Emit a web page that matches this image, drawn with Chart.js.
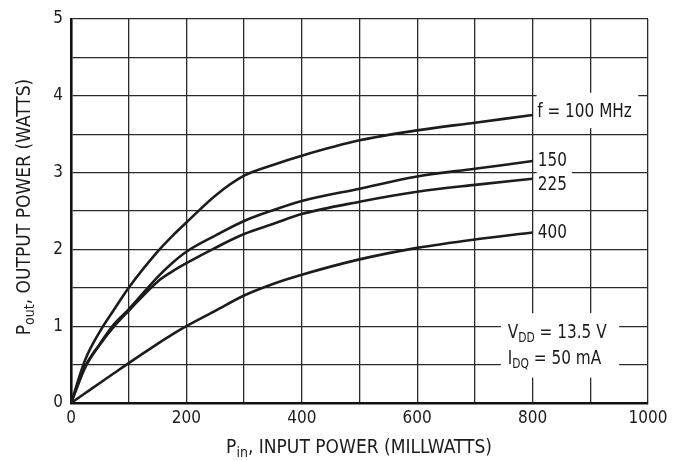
<!DOCTYPE html>
<html>
<head>
<meta charset="utf-8">
<script src="https://cdn.jsdelivr.net/npm/chart.js@4.4.1/dist/chart.umd.min.js"></script>
<style>
  html, body { margin: 0; padding: 0; background: #fff; }
  #wrap { width: 680px; height: 461px; position: relative; }
</style>
</head>
<body>
<div id="wrap"><canvas id="chart"></canvas></div>
<script>
// input power, mW
var pinMw = [0, 25, 50, 75, 100, 150, 175, 200, 250, 300, 350, 400, 500, 600, 700, 800];
// output power, W, one list per frequency
var pout100 = [0, 0.57, 0.93, 1.22, 1.5, 1.97, 2.17, 2.35, 2.7, 2.96, 3.1, 3.22, 3.42, 3.55, 3.65, 3.75];
var pout150 = [0, 0.48, 0.77, 1.03, 1.22, 1.64, 1.82, 1.97, 2.18, 2.37, 2.51, 2.63, 2.79, 2.95, 3.05, 3.15];
var pout225 = [0, 0.47, 0.76, 1.0, 1.2, 1.58, 1.71, 1.82, 2.02, 2.2, 2.33, 2.46, 2.62, 2.75, 2.84, 2.92];
var pout400 = [0, 0.13, 0.26, 0.39, 0.52, 0.77, 0.89, 1.0, 1.2, 1.4, 1.55, 1.67, 1.87, 2.02, 2.13, 2.22];
var xTickLabels = ['0', '200', '400', '600', '800', '1000'];
var yTickLabels = ['0', '1', '2', '3', '4', '5'];

var FONT = "'DejaVu Sans Condensed', 'Liberation Sans', Arial, sans-serif";
var INK = '#1c1c1c';

function toPoints(ys) {
    var pts = [];
    for (var i = 0; i < pinMw.length; i++) {
        pts.push({ x: pinMw[i], y: ys[i] });
    }
    return pts;
}

function curve(ys) {
    return {
        data: toPoints(ys),
        borderColor: INK,
        borderWidth: 2.6,
        pointRadius: 0,
        fill: false,
        cubicInterpolationMode: 'monotone'
    };
}

// text made of parts (some subscript), squeezed by sx, anchored left or centre
function drawParts(ctx, parts, x, y, size, sx, centre) {
    var big = size + 'px ' + FONT;
    var small = Math.round(size * 0.72) + 'px ' + FONT;
    var w = 0;
    parts.forEach(function(p) {
        ctx.font = p.sub ? small : big;
        w += ctx.measureText(p.t).width;
    });
    ctx.save();
    ctx.translate(x, y);
    ctx.scale(sx, 1);
    var cx = centre ? -w / 2 : 0;
    parts.forEach(function(p) {
        ctx.font = p.sub ? small : big;
        ctx.fillText(p.t, cx, p.sub ? size * 0.28 : 0);
        cx += ctx.measureText(p.t).width;
    });
    ctx.restore();
}

var notes = {
    id: 'notes',
    afterDatasetsDraw: function(chart) {
        var ctx = chart.ctx;
        var xs = chart.scales.x, ys = chart.scales.y;
        function px(v) { return xs.getPixelForValue(v); }
        function py(v) { return ys.getPixelForValue(v); }
        ctx.save();

        // white boxes behind the labels
        ctx.fillStyle = '#fff';
        [[807, 983, 4.04, 3.58], [807, 868, 3.28, 2.72], [807, 860, 2.34, 2.08], [745, 950, 1.17, 0.33]]
            .forEach(function(m) {
                ctx.fillRect(px(m[0]), py(m[2]), px(m[1]) - px(m[0]), py(m[3]) - py(m[2]));
            });

        ctx.fillStyle = INK;
        ctx.textBaseline = 'middle';
        ctx.textAlign = 'left';
        var sq = 0.85;
        drawParts(ctx, [{ t: 'f = 100 MHz' }], px(808), py(3.79), 20, sq);
        drawParts(ctx, [{ t: '150' }], px(809), py(3.15), 20, sq);
        drawParts(ctx, [{ t: '225' }], px(809), py(2.84), 20, sq);
        drawParts(ctx, [{ t: '400' }], px(809), py(2.21), 20, sq);

        // bias conditions
        drawParts(ctx, [{ t: 'V' }, { t: 'DD', sub: true }, { t: ' = 13.5 V' }], px(757), py(0.92), 20, sq);
        drawParts(ctx, [{ t: 'I' }, { t: 'DQ', sub: true }, { t: ' = 50 mA' }], px(757), py(0.57), 20, sq);

        // axis titles
        drawParts(ctx, [{ t: 'P' }, { t: 'in', sub: true }, { t: ', INPUT POWER (MILLWATTS)' }], 359, 448, 19, 1, true);
        ctx.translate(25, 207);
        ctx.rotate(-Math.PI / 2);
        drawParts(ctx, [{ t: 'P' }, { t: 'out', sub: true }, { t: ', OUTPUT POWER (WATTS)' }], 0, 0, 19, 1, true);
        ctx.restore();
    }
};

var chart = new Chart(document.getElementById('chart'), {
    type: 'line',
    data: {
        datasets: [curve(pout100), curve(pout150), curve(pout225), curve(pout400)]
    },
    options: {
        responsive: true,
        maintainAspectRatio: false,
        animation: false,
        layout: { padding: { top: 19, right: 32, left: 0, bottom: 0 } },
        plugins: { legend: { display: false }, tooltip: { enabled: false } },
        scales: {
            x: {
                type: 'linear',
                min: 0,
                max: 1000,
                afterFit: function(s) { s.height = 58; },
                grid: { color: '#2a2a2a', lineWidth: 1.3, drawTicks: false },
                border: { color: '#111', width: 2.6 },
                ticks: {
                    stepSize: 100,
                    autoSkip: false,
                    maxRotation: 0,
                    padding: 5,
                    color: INK,
                    font: { family: FONT, size: 17 },
                    callback: function(v) {
                        var i = xTickLabels.indexOf(String(v));
                        return i >= 0 ? xTickLabels[i] : '';
                    }
                }
            },
            y: {
                type: 'linear',
                min: 0,
                max: 5,
                afterFit: function(s) { s.width = 71; },
                grid: { color: '#2a2a2a', lineWidth: 1.3, drawTicks: false },
                border: { color: '#111', width: 2.6 },
                ticks: {
                    stepSize: 0.5,
                    autoSkip: false,
                    padding: 8,
                    color: INK,
                    font: { family: FONT, size: 17 },
                    callback: function(v) {
                        var i = yTickLabels.indexOf(String(v));
                        return i >= 0 ? yTickLabels[i] : '';
                    }
                }
            }
        }
    },
    plugins: [notes]
});
</script>
</body>
</html>
